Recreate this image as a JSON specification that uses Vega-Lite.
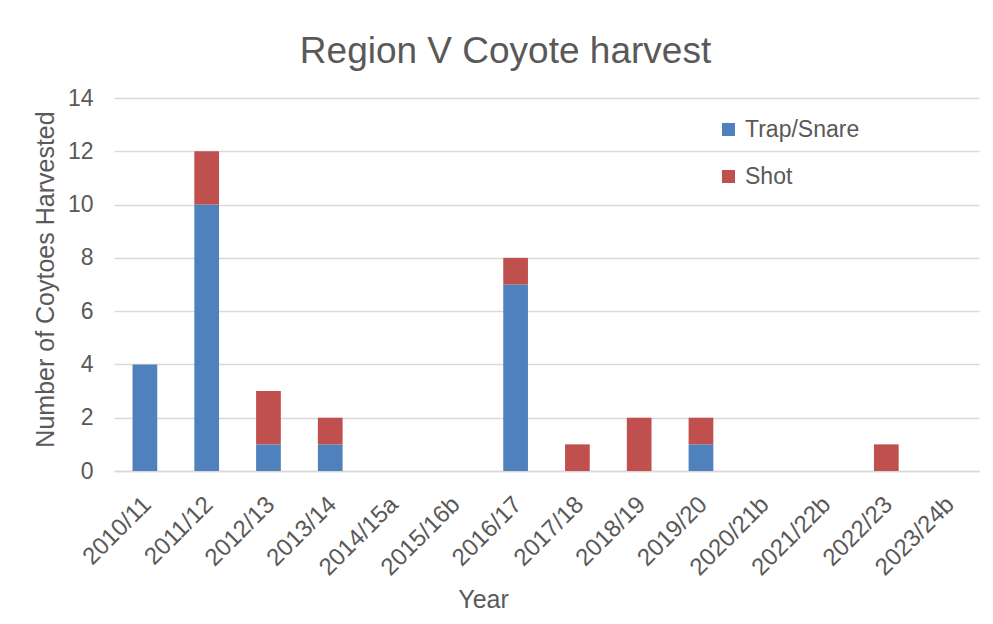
{
  "$schema": "https://vega.github.io/schema/vega-lite/v6.json",
  "autosize": {"type": "none"},
  "width": 865,
  "height": 373,
  "padding": {"left": 114, "top": 98, "right": 14, "bottom": 153},
  "background": "white",
  "title": {
    "text": "Region V Coyote harvest",
    "font": "Liberation Sans",
    "fontSize": 37,
    "fontWeight": "normal",
    "color": "#595959",
    "anchor": "middle",
    "dx": -41,
    "offset": 16
  },
  "data": {
    "values": [
      {"year": "2010/11", "method": "Trap/Snare", "count": 4},
      {"year": "2010/11", "method": "Shot", "count": 0},
      {"year": "2011/12", "method": "Trap/Snare", "count": 10},
      {"year": "2011/12", "method": "Shot", "count": 2},
      {"year": "2012/13", "method": "Trap/Snare", "count": 1},
      {"year": "2012/13", "method": "Shot", "count": 2},
      {"year": "2013/14", "method": "Trap/Snare", "count": 1},
      {"year": "2013/14", "method": "Shot", "count": 1},
      {"year": "2014/15a", "method": "Trap/Snare", "count": 0},
      {"year": "2014/15a", "method": "Shot", "count": 0},
      {"year": "2015/16b", "method": "Trap/Snare", "count": 0},
      {"year": "2015/16b", "method": "Shot", "count": 0},
      {"year": "2016/17", "method": "Trap/Snare", "count": 7},
      {"year": "2016/17", "method": "Shot", "count": 1},
      {"year": "2017/18", "method": "Trap/Snare", "count": 0},
      {"year": "2017/18", "method": "Shot", "count": 1},
      {"year": "2018/19", "method": "Trap/Snare", "count": 0},
      {"year": "2018/19", "method": "Shot", "count": 2},
      {"year": "2019/20", "method": "Trap/Snare", "count": 1},
      {"year": "2019/20", "method": "Shot", "count": 1},
      {"year": "2020/21b", "method": "Trap/Snare", "count": 0},
      {"year": "2020/21b", "method": "Shot", "count": 0},
      {"year": "2021/22b", "method": "Trap/Snare", "count": 0},
      {"year": "2021/22b", "method": "Shot", "count": 0},
      {"year": "2022/23", "method": "Trap/Snare", "count": 0},
      {"year": "2022/23", "method": "Shot", "count": 1},
      {"year": "2023/24b", "method": "Trap/Snare", "count": 0},
      {"year": "2023/24b", "method": "Shot", "count": 0}
    ]
  },
  "mark": {"type": "bar"},
  "encoding": {
    "x": {
      "field": "year",
      "type": "nominal",
      "sort": null,
      "scale": {"paddingInner": 0.6, "paddingOuter": 0.3},
      "axis": {
        "title": "Year",
        "labelAngle": -45,
        "labelAlign": "right",
        "labelBaseline": "top",
        "labelPadding": 21,
        "labelOffset": -6,
        "labelFontSize": 24,
        "labelFont": "Liberation Sans",
        "labelColor": "#595959",
        "ticks": false,
        "tickSize": 0,
        "domain": true,
        "domainColor": "#d9d9d9",
        "domainWidth": 1.5,
        "titleX": 369,
        "titleY": 136,
        "titleAlign": "center",
        "titleBaseline": "alphabetic",
        "titleFontSize": 25
      }
    },
    "y": {
      "field": "count",
      "type": "quantitative",
      "stack": "zero",
      "scale": {"domain": [0, 14]},
      "axis": {
        "title": "Number of Coytoes Harvested",
        "values": [0, 2, 4, 6, 8, 10, 12, 14],
        "grid": true,
        "gridColor": "#d9d9d9",
        "gridWidth": 1.5,
        "domain": false,
        "ticks": false,
        "tickSize": 0,
        "labelPadding": 21,
        "labelFontSize": 23,
        "labelFont": "Liberation Sans",
        "labelColor": "#595959",
        "titleX": -61,
        "titleY": 181,
        "titleAngle": -90,
        "titleAlign": "center",
        "titleBaseline": "alphabetic",
        "titleFontSize": 25
      }
    },
    "color": {
      "field": "method",
      "type": "nominal",
      "scale": {"domain": ["Trap/Snare", "Shot"], "range": ["#4F81BD", "#C0504D"]},
      "legend": {
        "title": null,
        "orient": "none",
        "legendX": 603,
        "legendY": 20,
        "symbolType": "square",
        "symbolSize": 169,
        "symbolStrokeWidth": 0,
        "labelFontSize": 23,
        "labelFont": "Liberation Sans",
        "labelColor": "#595959",
        "labelOffset": 5,
        "rowPadding": 23,
        "padding": 0
      }
    },
    "order": {"field": "method", "sort": "descending"}
  },
  "config": {
    "font": "Liberation Sans",
    "view": {"stroke": null},
    "axis": {
      "labelFont": "Liberation Sans",
      "labelFontSize": 23,
      "labelColor": "#595959",
      "titleFont": "Liberation Sans",
      "titleFontWeight": "normal",
      "titleColor": "#595959"
    },
    "legend": {
      "labelFont": "Liberation Sans",
      "labelColor": "#595959"
    }
  }
}
